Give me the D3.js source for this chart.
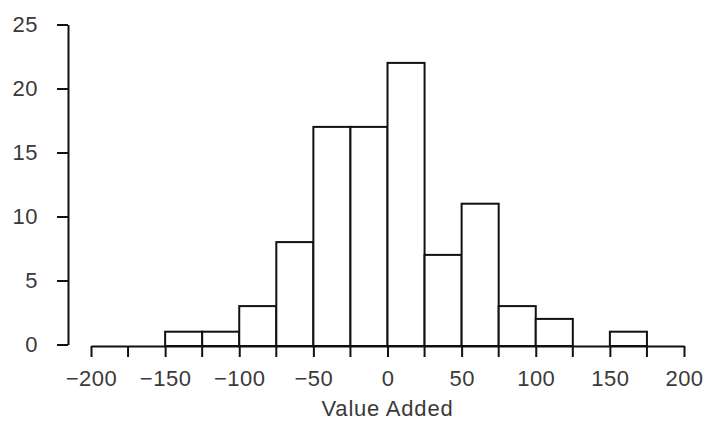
<!DOCTYPE html>
<html>
<head>
<meta charset="utf-8">
<script src="https://cdn.jsdelivr.net/npm/d3@7"></script>
<style>
  body { margin: 0; background: #fff; }
  .axis text { font-family: "Liberation Sans", Arial, sans-serif; font-size: 22px; fill: #3a3a3a; letter-spacing: 0.5px; }
  .axis path, .axis line { stroke: #111; stroke-width: 2; }
</style>
</head>
<body>
<div id="chart"></div>
<script>
// histogram bins (left edge) and counts, bin width 25
const binStarts = [-200, -175, -150, -125, -100, -75, -50, -25, 0, 25, 50, 75, 100, 125, 150, 175];
const counts = [0, 0, 1, 1, 3, 8, 17, 17, 22, 7, 11, 3, 2, 0, 1, 0];
const binWidth = 25;
const xTicks = [-200, -150, -100, -50, 0, 50, 100, 150, 200];
const xMinorTicks = [-175, -125, -75, -25, 25, 75, 125, 175];
const yTicks = [0, 5, 10, 15, 20, 25];

const width = 705, height = 423;

const svg = d3.select("#chart").append("svg")
    .attr("width", width)
    .attr("height", height);

const x = d3.scaleLinear().domain([-200, 200]).range([91, 684]);
const y = d3.scaleLinear().domain([0, 25]).range([344.5, 24.5]);

// bars (skip empty bins)
const bins = binStarts.map((b, i) => ({ x0: b, x1: b + binWidth, n: counts[i] }))
    .filter(d => d.n > 0);

svg.append("g").selectAll("rect")
    .data(bins)
    .enter().append("rect")
    .attr("x", d => x(d.x0))
    .attr("y", d => y(d.n))
    .attr("width", d => x(d.x1) - x(d.x0))
    .attr("height", d => y(0) - y(d.n) + 1.5)
    .attr("fill", "#fff")
    .attr("stroke", "#111")
    .attr("stroke-width", 2);

// y axis
const yAxis = svg.append("g")
    .attr("class", "axis")
    .attr("transform", "translate(68,0)")
    .call(d3.axisLeft(y).tickValues(yTicks).tickSize(11).tickPadding(19).tickSizeOuter(0));

// x axis with minor ticks at bin edges
const xAxis = svg.append("g")
    .attr("class", "axis")
    .attr("transform", `translate(0,${y(0) + 1.5})`)
    .call(d3.axisBottom(x).tickValues(xTicks).tickSize(11).tickPadding(13).tickSizeOuter(0)
        .tickFormat(d => d < 0 ? "\u2212" + Math.abs(d) : d));

xAxis.selectAll(".minor")
    .data(xMinorTicks)
    .enter().append("line")
    .attr("class", "minor")
    .attr("x1", d => x(d)).attr("x2", d => x(d))
    .attr("y1", 0).attr("y2", 11);

// axis title
svg.append("text")
    .attr("x", x(0))
    .attr("y", 416)
    .attr("text-anchor", "middle")
    .style("font-family", "Liberation Sans, Arial, sans-serif")
    .style("font-size", "22px")
    .style("letter-spacing", "0.8px")
    .style("fill", "#3a3a3a")
    .text("Value Added");
</script>
</body>
</html>
